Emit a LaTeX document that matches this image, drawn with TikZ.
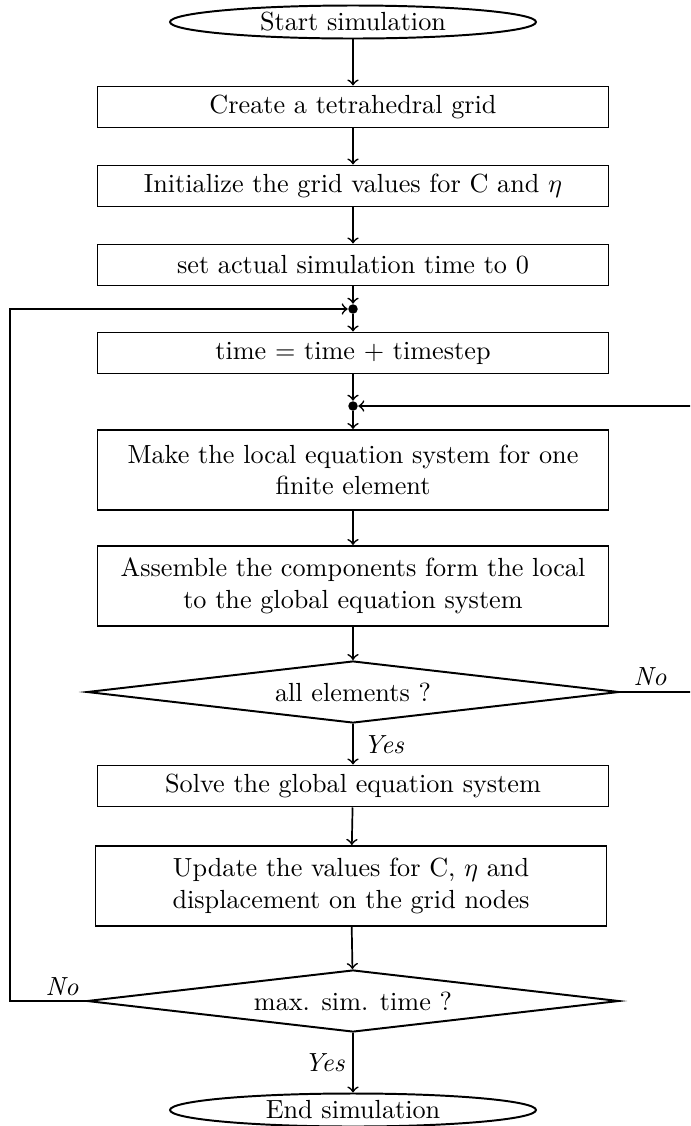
\documentclass[tikz,border=0pt]{standalone}
\usetikzlibrary{shapes.geometric}
\begin{document}
\def\upx{0.3817}
\begin{tikzpicture}[x=0.3817pt,y=-0.3817pt,
 box/.style={draw,line width=0.75pt,minimum width={511*\upx pt},minimum height={41*\upx pt},inner sep=0pt,align=center},
 tallbox/.style={box,minimum height={80*\upx pt}},
 term/.style={draw,ellipse,line width=0.75pt,minimum width={366*\upx pt},minimum height={33*\upx pt},inner sep=0pt},
 dec/.style={draw,diamond,aspect=8.6,line width=0.75pt,minimum width={532*\upx pt},minimum height={62*\upx pt},inner sep=0pt},
 junc/.style={circle,fill,inner sep=0pt,minimum size={9.5*\upx pt}},
 arr/.style={->,line width=0.65pt},
 lbl/.style={font=\itshape,inner sep=0pt}]
\useasboundingbox (0,0) rectangle (690,1126);
\clip (0,0) rectangle (690,1126);
\node[term] (start) at (353,22) {Start simulation};
\node[box] (b1) at (353,107) {Create a tetrahedral grid};
\node[box] (b2) at (353,186) {Initialize the grid values for C and $\eta$};
\node[box] (b3) at (353,265) {set actual simulation time to 0};
\node[junc] (j1) at (353,309) {};
\node[box] (b4) at (353,353) {time $=$ time $+$ timestep};
\node[junc] (j2) at (353,406) {};
\node[tallbox] (b5) at (353,470) {Make the local equation system for one\\finite element};
\node[tallbox] (b6) at (353,586) {Assemble the components form the local\\to the global equation system};
\node[dec] (d1) at (353,692) {all elements ?};
\node[box] (b7) at (353,786) {Solve the global equation system};
\node[tallbox] (b8) at (351,886) {Update the values for C, $\eta$ and\\displacement on the grid nodes};
\node[dec] (d2) at (353,1001) {max. sim. time ?};
\node[term] (end) at (353,1110) {End simulation};
\coordinate (lft) at (10,309);
\coordinate (rgt) at (705,406);
\draw[arr] (start) -- (b1);
\draw[arr] (b1) -- (b2);
\draw[arr] (b2) -- (b3);
\draw[arr] (b3) -- (j1);
\draw[arr] (j1) -- (b4);
\draw[arr] (b4) -- (j2);
\draw[arr] (j2) -- (b5);
\draw[arr] (b5) -- (b6);
\draw[arr] (b6) -- (d1);
\draw[arr] (d1) -- (b7);
\draw[arr] (b7) -- (b8);
\draw[arr] (b8) -- (d2);
\draw[arr] (d2) -- (end);
\draw[arr] (d2.west) -| (lft) -- (j1);
\draw[arr] (d1.east) -| (rgt) -- (j2);
\node[lbl,anchor=west] (y1) at (363,745) {Yes};
\node[lbl,anchor=east] (y2) at (345,1063) {Yes};
\node[lbl] (n1) at (650,677) {No};
\node[lbl] (n2) at (62,987) {No};
\end{tikzpicture}
\end{document}
